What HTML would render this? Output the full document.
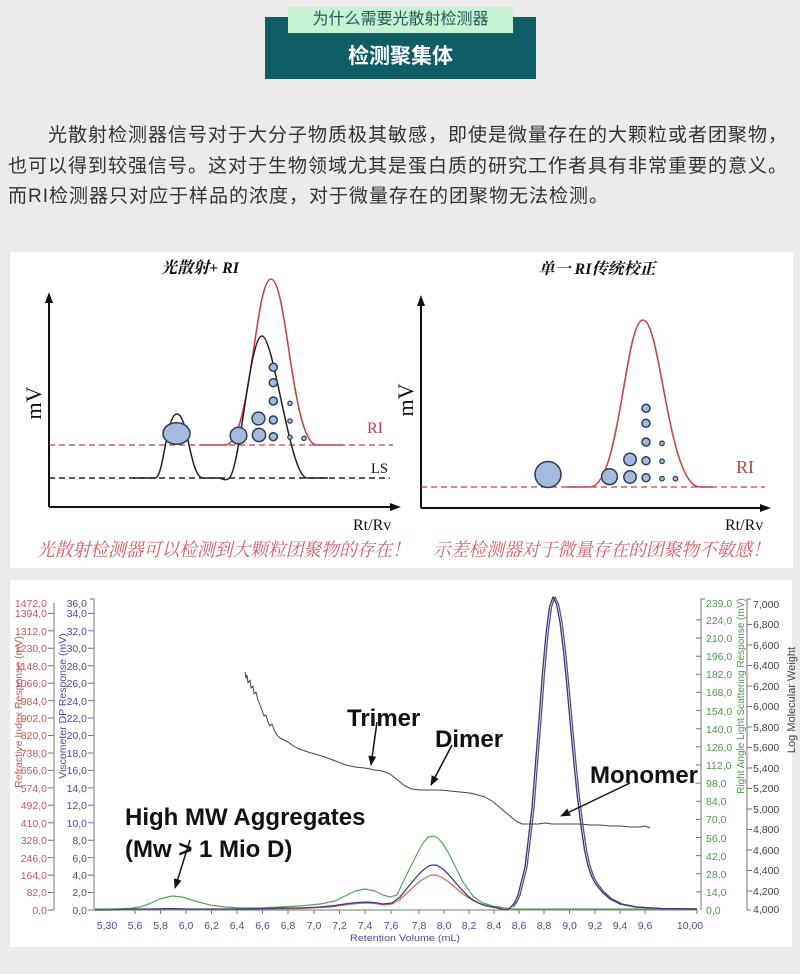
<!DOCTYPE html>
<html><head><meta charset="utf-8">
<style>
html,body{margin:0;padding:0;}
body{width:800px;height:974px;background:#ebebeb;position:relative;overflow:hidden;font-family:"Liberation Sans","Noto Sans CJK SC",sans-serif;}
svg{position:absolute;left:0;top:0;}
.box{position:absolute;left:265px;top:17px;width:271px;height:62px;background:#0f5e66;}
.tag{position:absolute;left:288px;top:7px;width:225px;height:26px;background:#c7f2d3;color:#1e5a5c;font-size:16px;line-height:26px;text-align:center;}
.title{position:absolute;left:265px;top:42px;width:271px;text-align:center;color:#fff;font-weight:bold;font-size:21px;line-height:30px;}
.para{position:absolute;left:8px;top:121px;font-size:19px;letter-spacing:1px;line-height:30.5px;color:#333;white-space:nowrap;}
</style></head>
<body>
<svg width="800" height="974" viewBox="0 0 800 974">
<defs>
<marker id="ah" markerWidth="10" markerHeight="8" refX="9" refY="4" orient="auto" markerUnits="userSpaceOnUse"><path d="M0,0 L10,4 L0,8 Z" fill="#111"/></marker>
</defs>
<rect x="10" y="252" width="783" height="316" fill="#fff"/>
<rect x="10" y="580" width="782" height="367" fill="#fff"/>

<g font-family="'Liberation Serif','Noto Serif CJK SC',serif">
<text x="200" y="273" text-anchor="middle" font-size="16" font-weight="bold" font-style="italic" fill="#111">光散射+ RI</text>
<text x="597" y="274" text-anchor="middle" font-size="16" font-weight="bold" font-style="italic" fill="#111">单一 RI传统校正</text>
<text transform="translate(41,403) rotate(-90)" text-anchor="middle" font-size="22" fill="#111">mV</text>
<text transform="translate(413,400) rotate(-90)" text-anchor="middle" font-size="22" fill="#111">mV</text>
<text x="367" y="433" font-size="16" fill="#c0404c">RI</text>
<text x="371" y="473" font-size="14.6" fill="#111">LS</text>
<text x="353" y="530" font-size="16" fill="#111">Rt/Rv</text>
<text x="736" y="473" font-size="18" fill="#c0404c">RI</text>
<text x="725" y="530" font-size="16" fill="#111">Rt/Rv</text>
<text x="37" y="556" font-size="18.5" font-style="italic" fill="#d0606c" textLength="373" lengthAdjust="spacingAndGlyphs">光散射检测器可以检测到大颗粒团聚物的存在！</text>
<text x="433" y="556" font-size="18.5" font-style="italic" fill="#d0606c" textLength="337" lengthAdjust="spacingAndGlyphs">示差检测器对于微量存在的团聚物不敏感！</text>
</g>

<path d="M49,507 V300 M49,507 H394" stroke="#111" stroke-width="2" fill="none"/>
<path d="M49,292 L45,303 L53,303 Z" fill="#111"/>
<path d="M401,507 L390,503 L390,511 Z" fill="#111"/>
<line x1="49" y1="445" x2="393" y2="445" stroke="#c0404c" stroke-width="1.3" stroke-dasharray="6,4"/>
<line x1="49" y1="478" x2="390" y2="478" stroke="#222" stroke-width="1.6" stroke-dasharray="6,4"/>
<path d="M200,445 L225,445 C251,445 255,279 271,279 C287,279 292,445 317,445 L343,445" stroke="#c8434f" stroke-width="1.6" fill="none"/>
<path d="M133,478 L155,478 C164,478 166,414 177,414 C188,414 190,478 203,478 L218,478 C222,478 224,481 228,479 C240,476 249,336 262,336 C274,336 290,478 307,478 L328,478" stroke="#222" stroke-width="1.5" fill="none"/>
<g fill="#a3bbdf" stroke="#2d3b55" stroke-width="1.5">
<ellipse cx="176.5" cy="433.5" rx="13.5" ry="10.8"/>
<circle cx="238.5" cy="435.5" r="8.3"/>
<circle cx="258.5" cy="418.5" r="6.4"/>
<circle cx="259" cy="435" r="6.6"/>
<circle cx="273.3" cy="367.3" r="4"/>
<circle cx="273.3" cy="382.7" r="4"/>
<circle cx="273.3" cy="401" r="4"/>
<circle cx="273.3" cy="420" r="4"/>
<circle cx="273.3" cy="436.7" r="4"/>
<circle cx="290" cy="403.3" r="2.2" stroke-width="1.2"/>
<circle cx="290" cy="421" r="2.2" stroke-width="1.2"/>
<circle cx="290" cy="437.3" r="2.2" stroke-width="1.2"/>
<circle cx="304" cy="438.3" r="2.2" stroke-width="1.2"/>
</g>

<path d="M421,508 V303 M421,508 H764" stroke="#111" stroke-width="2" fill="none"/>
<path d="M421,295 L417,306 L425,306 Z" fill="#111"/>
<path d="M771,508 L760,504 L760,512 Z" fill="#111"/>
<line x1="421" y1="487" x2="765" y2="487" stroke="#c0404c" stroke-width="1.3" stroke-dasharray="6,4"/>
<path d="M567,487 L590,487 C620,487 625,320 643,320 C661,320 668,487 700,487 L713,487" stroke="#c8434f" stroke-width="1.6" fill="none"/>
<g fill="#a3bbdf" stroke="#2d3b55" stroke-width="1.5">
<circle cx="548" cy="474.5" r="13"/>
<circle cx="609.5" cy="476.7" r="7.9"/>
<circle cx="630" cy="459.5" r="6.2"/>
<circle cx="630" cy="477" r="6.2"/>
<circle cx="646" cy="408.3" r="4"/>
<circle cx="646" cy="423.3" r="4"/>
<circle cx="646" cy="442" r="4"/>
<circle cx="646" cy="460.7" r="4"/>
<circle cx="646" cy="477.7" r="4"/>
<circle cx="662" cy="443.3" r="2.3" stroke-width="1.2"/>
<circle cx="662" cy="461.3" r="2.3" stroke-width="1.2"/>
<circle cx="662" cy="478.7" r="2.3" stroke-width="1.2"/>
<circle cx="675.5" cy="478.7" r="2.3" stroke-width="1.2"/>
</g>

<g stroke="#777" stroke-width="1" fill="none">
<path d="M54,603 V910"/>
<path d="M90,599 H94 V910 H697 V914"/>
<path d="M705,599 H701 V910"/>
<path d="M751,599 H747 V910 H751"/>
</g>
<g stroke="#777" stroke-width="1">
<path d="M48,910H54M48,892.5H54M48,875.1H54M48,857.6H54M48,840.2H54M48,822.8H54M48,805.3H54M48,787.9H54M48,770.4H54M48,753H54M48,735.5H54M48,718H54M48,700.6H54M48,683.2H54M48,665.7H54M48,648.2H54M48,630.8H54M48,613.4H54"/>
<path d="M88,910H94M88,892.5H94M88,875.1H94M88,857.6H94M88,840.2H94M88,822.8H94M88,805.3H94M88,787.9H94M88,770.4H94M88,753H94M88,735.5H94M88,718H94M88,700.6H94M88,683.2H94M88,665.7H94M88,648.2H94M88,630.8H94M88,613.4H94"/>
<path d="M696,891.9H701M696,873.7H701M696,855.6H701M696,837.5H701M696,819.4H701M696,801.2H701M696,783.1H701M696,765H701M696,746.8H701M696,728.7H701M696,710.6H701M696,692.4H701M696,674.3H701M696,656.2H701M696,638H701M696,619.9H701"/>
<path d="M747,891H752M747,870.5H752M747,850H752M747,829.5H752M747,809H752M747,788.5H752M747,768H752M747,747.5H752M747,727H752M747,706.5H752M747,686H752M747,665.5H752M747,645H752M747,624.5H752"/>
<path d="M135,910v4M160.5,910v4M186,910v4M211.5,910v4M237,910v4M262.5,910v4M288,910v4M314,910v4M339.5,910v4M365,910v4M391,910v4M419,910v4M444,910v4M469,910v4M494,910v4M519,910v4M544,910v4M569.5,910v4M595,910v4M620,910v4M645,910v4"/>
</g>
<g font-family="'Liberation Sans',sans-serif" font-size="10.5">
<g fill="#c9575b" text-anchor="end">
<text x="47" y="607">1472,0</text><text x="47" y="617">1394,0</text><text x="47" y="635">1312,0</text><text x="47" y="652">1230,0</text><text x="47" y="670">1148,0</text><text x="47" y="687">1066,0</text><text x="47" y="705">984,0</text><text x="47" y="722">902,0</text><text x="47" y="739">820,0</text><text x="47" y="757">738,0</text><text x="47" y="774">656,0</text><text x="47" y="792">574,0</text><text x="47" y="809">492,0</text><text x="47" y="827">410,0</text><text x="47" y="844">328,0</text><text x="47" y="862">246,0</text><text x="47" y="879">164,0</text><text x="47" y="896">82,0</text><text x="47" y="914">0,0</text>
</g>
<g fill="#4b4b9b" text-anchor="end">
<text x="87" y="607">36,0</text><text x="87" y="617">34,0</text><text x="87" y="635">32,0</text><text x="87" y="652">30,0</text><text x="87" y="670">28,0</text><text x="87" y="687">26,0</text><text x="87" y="705">24,0</text><text x="87" y="722">22,0</text><text x="87" y="739">20,0</text><text x="87" y="757">18,0</text><text x="87" y="774">16,0</text><text x="87" y="792">14,0</text><text x="87" y="809">12,0</text><text x="87" y="827">10,0</text><text x="87" y="844">8,0</text><text x="87" y="862">6,0</text><text x="87" y="879">4,0</text><text x="87" y="896">2,0</text><text x="87" y="914">0,0</text>
</g>
<g fill="#4c9a4c">
<text x="706" y="607">239,0</text><text x="706" y="624">224,0</text><text x="706" y="642">210,0</text><text x="706" y="660">196,0</text><text x="706" y="678">182,0</text><text x="706" y="696">168,0</text><text x="706" y="715">154,0</text><text x="706" y="733">140,0</text><text x="706" y="751">126,0</text><text x="706" y="769">112,0</text><text x="706" y="787">98,0</text><text x="706" y="805">84,0</text><text x="706" y="823">70,0</text><text x="706" y="842">56,0</text><text x="706" y="860">42,0</text><text x="706" y="878">28,0</text><text x="706" y="896">14,0</text><text x="706" y="914">0,0</text>
</g>
<g fill="#444">
<text x="753" y="608">7,000</text><text x="753" y="628">6,800</text><text x="753" y="649">6,600</text><text x="753" y="669">6,400</text><text x="753" y="690">6,200</text><text x="753" y="710">6,000</text><text x="753" y="731">5,800</text><text x="753" y="751">5,600</text><text x="753" y="772">5,400</text><text x="753" y="792">5,200</text><text x="753" y="813">5,000</text><text x="753" y="833">4,800</text><text x="753" y="854">4,600</text><text x="753" y="874">4,400</text><text x="753" y="895">4,200</text><text x="753" y="913">4,000</text>
</g>
<g fill="#4b4b9b" text-anchor="middle">
<text x="107" y="929">5,30</text><text x="135" y="929">5,6</text><text x="160.5" y="929">5,8</text><text x="186" y="929">6,0</text><text x="211.5" y="929">6,2</text><text x="237" y="929">6,4</text><text x="262.5" y="929">6,6</text><text x="288" y="929">6,8</text><text x="314" y="929">7,0</text><text x="339.5" y="929">7,2</text><text x="365" y="929">7,4</text><text x="391" y="929">7,6</text><text x="419" y="929">7,8</text><text x="444" y="929">8,0</text><text x="469" y="929">8,2</text><text x="494" y="929">8,4</text><text x="519" y="929">8,6</text><text x="544" y="929">8,8</text><text x="569.5" y="929">9,0</text><text x="595" y="929">9,2</text><text x="620" y="929">9,4</text><text x="645" y="929">9,6</text><text x="690" y="929">10,00</text>
</g>
<text x="350" y="941" font-size="9.5" fill="#4b4b9b" textLength="110" lengthAdjust="spacingAndGlyphs">Retention Volume (mL)</text>
<text transform="translate(22,712) rotate(-90)" text-anchor="middle" font-size="10.5" fill="#c9575b">Refractive Index Response (mV)</text>
<text transform="translate(66,706) rotate(-90)" text-anchor="middle" font-size="10.5" fill="#4b4b9b">Viscometer DP Response (mV)</text>
<text transform="translate(744,696) rotate(-90)" text-anchor="middle" font-size="10" fill="#4c9a4c">Right Angle Light Scattering Response (mV)</text>
<text transform="translate(795,700) rotate(-90)" text-anchor="middle" font-size="11" fill="#444">Log Molecular Weight</text>
</g>

<polyline fill="none" stroke="#5aa55a" stroke-width="1.2" stroke-linejoin="round" points="95,909 110,909 130,908.5 140,907 150,903.5 160,899 172,896 182,897 195,901 210,905 225,907 240,908 260,908 280,907 300,906 320,904 335,901 345,896 355,891 365,889 375,891 383,895 390,897 397,895 403,882 408,872 413,862 418,852 423,843 428,837 433,836 438,838 443,844 448,852 453,862 458,872 463,882 468,889 473,896 478,900 483,903 493,906 505,908 515,909 697,909"/>
<polyline fill="none" stroke="#d06868" stroke-width="1.2" stroke-linejoin="round" points="95,910 130,909.5 170,909 220,909.5 260,909 300,908.5 330,907 348,904.5 358,903.5 366,903 375,903.5 383,905 392,904 400,899.5 406,894 413,887.5 419,882 425,878 430,875.5 433,875 437,875.3 443,878 448,881.5 453,885.5 458,890 463,894 468,897.5 473,900.5 478,903 483,905 490,906.8 497,908 503,909.5 508,910 511,907 515,902 518,895 521,883 525,867 528,842 532,808 535,770 539,720 542.5,673 546,634 549.5,607 553,597 556.5,604 560,622 563.5,651 567,687 570.5,726 574,764 577.5,798 581,826 584.5,850 588,866 591.5,876 595,883 602,892 610,899 620,904 635,907 660,908.5 697,909"/>
<polyline fill="none" stroke="#55557a" stroke-width="1.3" stroke-linejoin="round" transform="translate(2,0)" points="511,907 515,902 518,895 521,883 525,867 528,842 532,808 535,770 539,720 542.5,673 546,634 549.5,607 553,597 556.5,604 560,622 563.5,651 567,687 570.5,726 574,764 577.5,798 581,826 584.5,850 588,866 591.5,876 595,883 602,892 610,899 620,904 635,907 660,908.5 695,909"/>
<polyline fill="none" stroke="#3d3d7e" stroke-width="1.3" stroke-linejoin="round" points="95,910 110,910 130,909 150,909 170,908.5 190,909 220,909 250,909 280,908 300,908 320,907 335,905.5 348,903.5 358,902.5 366,902 374,902.5 383,904 392,903 400,897 406,889.5 413,881 419,874 425,868.5 430,865.5 433,865 437,865.3 443,869 448,874 453,879.6 458,885.5 463,891 468,896 473,900 478,902.7 483,904.7 490,906.5 497,907.8 503,909.3 508,909.6 511,907 515,902 518,895 521,883 525,867 528,842 532,808 535,770 539,720 542.5,673 546,634 549.5,607 553,597 556.5,604 560,622 563.5,651 567,687 570.5,726 574,764 577.5,798 581,826 584.5,850 588,866 591.5,876 595,883 602,892 610,899 620,904 635,907 660,908.5 697,909"/>
<polyline fill="none" stroke="#444" stroke-width="1" stroke-linejoin="round" points="245,672 246,678 247,675 248,683 250,680 251,688 253,686 254,694 256,692 258,700 260,705 262,710 264,716 266,715 268,722 270,726 272,724 274,730 277,735 280,738 284,740 288,742 292,745 297,748 302,750 308,752 315,754 322,756 330,759 338,762 346,765 355,767 365,768 375,770 382,771 388,773 394,777 400,782 405,786 412,789 420,790 430,790 440,790 450,791 460,792 470,793 478,795 485,797 492,801 498,806 504,811 510,816 516,821 522,824 530,824 538,824 545,823 552,824 560,824 570,824 580,824 590,825 600,825 610,826 620,826 630,827 640,827 645,826 650,828"/>

<g font-family="'Liberation Sans',sans-serif" font-weight="bold" font-size="24" fill="#111">
<text x="347" y="726">Trimer</text>
<text x="435" y="747">Dimer</text>
<text x="590" y="783">Monomer</text>
<text x="125" y="825">High MW Aggregates</text>
<text x="125" y="857">(Mw &gt; 1 Mio D)</text>
</g>
<g stroke="#111" stroke-width="1.5" fill="none" marker-end="url(#ah)">
<line x1="377" y1="722" x2="371" y2="765"/>
<line x1="452" y1="745" x2="431" y2="785"/>
<line x1="630" y1="783" x2="561" y2="816"/>
<line x1="190" y1="840" x2="175" y2="888"/>
</g>
</svg>

<div class="box"></div>
<div class="tag">为什么需要光散射检测器</div>
<div class="title">检测聚集体</div>
<div class="para"><span style="display:inline-block;width:40px"></span>光散射检测器信号对于大分子物质极其敏感，即使是微量存在的大颗粒或者团聚物，<br>也可以得到较强信号。这对于生物领域尤其是蛋白质的研究工作者具有非常重要的意义。<br>而RI检测器只对应于样品的浓度，对于微量存在的团聚物无法检测。</div>
</body></html>
